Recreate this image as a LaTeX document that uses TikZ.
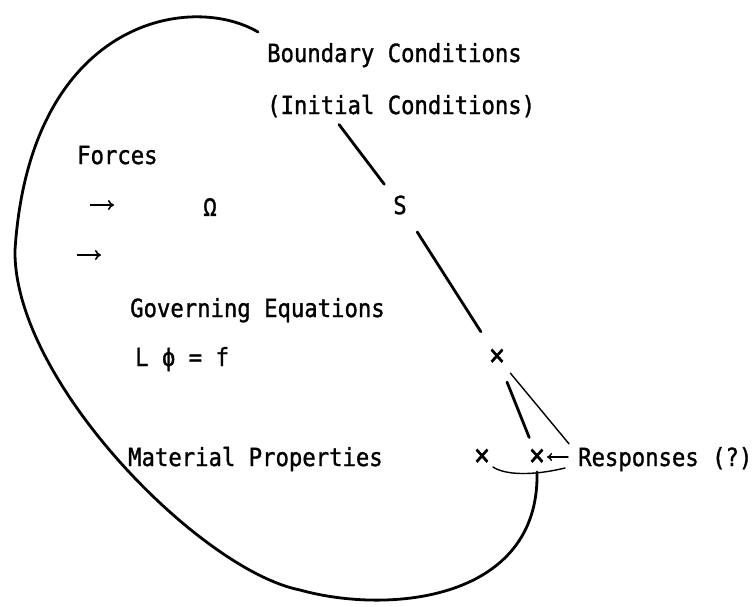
\documentclass[tikz,border=0pt]{standalone}
\usepackage{fontspec}
\usetikzlibrary{calc,arrows.meta}
\newfontfamily\figfont{DejaVu Sans Mono}[FakeStretch=0.89,FakeBold=1.2]
\tikzset{
  lbl/.style={anchor=base west,inner sep=0pt,font={\figfont\fontsize{25}{28}\selectfont}},
  sym/.style={inner sep=0pt,font={\figfont\fontsize{25}{28}\selectfont}},
  crs/.style={inner sep=0pt,font={\figfont\fontsize{30}{30}\selectfont}},
  bnd/.style={line width=2.8pt,line cap=round},
  fine/.style={line width=1.4pt,line cap=round},
  frc/.style={line width=1.6pt,-{To[length=6pt,width=10pt]}}
}

\begin{document}
\begin{tikzpicture}[x=1pt,y=-1pt]
\useasboundingbox (0,0) rectangle (753,606);
\node[lbl] (bc) at (267,62) {Boundary Conditions};
\node[lbl] (ic) at (267,114) {(Initial Conditions)};
\node[lbl] (forces) at (77,164) {Forces};
\node[lbl] (geq) at (130,317) {Governing Equations};
\node[lbl] (leq) at (135,366) {L ϕ = f};
\node[lbl] (mat) at (128,466) {Material Properties};
\node[lbl] (resp) at (578,466) {Responses (?)};
\node[sym] (omega) at (210,207) {Ω};
\node[sym] (s) at (400,205) {S};
\node[crs] (xa) at (497,357) {×};
\node[crs] (xb) at (537,457) {×};
\node[crs] (xc) at (482,457) {×};
\coordinate (fa) at (90,205);
\coordinate (fb) at (77,255);
\coordinate (gtop) at (258,32);
\coordinate (gend) at (537,472);

\draw[frc] (fa) -- ++(24,0);
\draw[frc] (fb) -- ++(24,0);

\draw[bnd,shorten >=26pt] ($(ic.south west)+(72,7)$) -- (s.center);
\draw[bnd,shorten <=32pt,shorten >=30pt] (s.center) -- (xa.center);
\draw[bnd,shorten <=27pt,shorten >=21pt] (xa.center) -- (xb.center);
\draw[bnd] (gtop) .. controls (190,-8) and (30,20) .. (15,250)
  .. controls (13,380) and (200,570) .. (300,590)
  .. controls (390,615) and (540,600) .. (gend);

\draw[fine,shorten <=21pt] (xa.center) -- ($(resp.north west)+(-9,-3)$);
\draw[fine,-{To[length=5pt,width=8pt]},shorten <=10pt,shorten >=10pt] (xb -| resp.west) -- (xb.center);
\draw[fine] ($(xc.center)+(11,10)$) .. controls (505,475) and (532,476) .. ($(xb.center)+(28,11)$);
\end{tikzpicture}
\end{document}
